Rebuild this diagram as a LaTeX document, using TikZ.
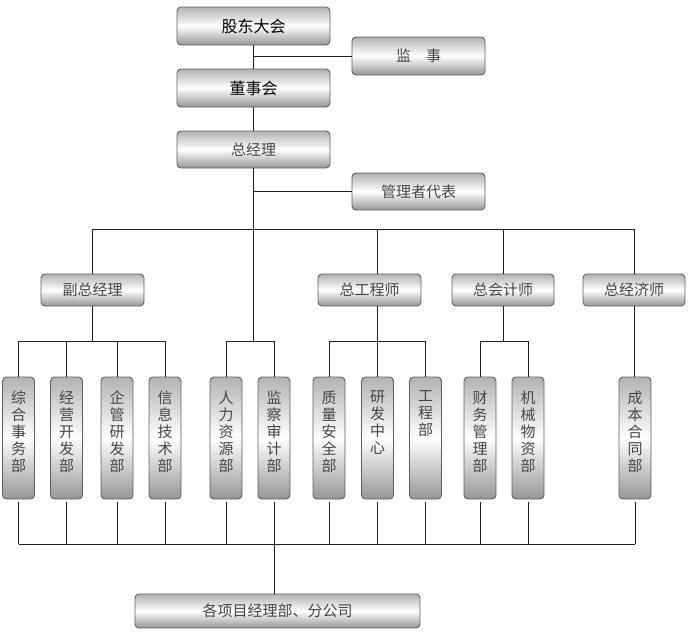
\documentclass[tikz,border=0pt]{standalone}
\usepackage{fontspec}
\newfontfamily\cjk{Noto Sans CJK SC}
\definecolor{boxtop}{RGB}{178,178,178}
\definecolor{boxbot}{RGB}{150,150,150}
\definecolor{boxline}{RGB}{95,95,95}
\definecolor{txtgray}{RGB}{70,70,70}
\definecolor{conncol}{RGB}{30,30,30}
\tikzset{
  basebox/.style={draw=boxline, line width=0.9pt, rounded corners=4pt,
    top color=boxtop, bottom color=boxbot, middle color=white,
    inner sep=0pt, text=txtgray},
  hbox/.style={basebox, minimum height=32pt, minimum width=103pt,
    font=\cjk\fontsize{15}{17}\selectfont},
  tallbox/.style={hbox, minimum height=38pt, minimum width=153pt},
  sidebox/.style={hbox, minimum height=38pt, minimum width=133pt},
  vbox/.style={basebox, minimum width=32pt, minimum height=122pt},
  vtxt/.style={inner sep=0pt, align=center, text=txtgray,
    font=\cjk\fontsize{15}{17}\selectfont},
  conn/.style={draw=conncol, line width=1pt}
}
\begin{document}
\begin{tikzpicture}[x=1pt,y=-1pt]
\useasboundingbox (0,0) rectangle (688,635);
% top chain
\node[tallbox, text=black, font=\cjk\fontsize{16}{18}\selectfont] (gd) at (253.5,26) {股东大会};
\node[sidebox] (js) at (418.5,56) {监\hspace{1em}事};
\node[tallbox, text=black, font=\cjk\fontsize{16}{18}\selectfont] (ds) at (253.5,88) {董事会};
\node[tallbox, minimum height=37pt] (zjl) at (253.5,149.5) {总经理};
\node[sidebox, minimum height=37pt] (gl) at (418.5,191.5) {管理者代表};
% second level
\node[hbox] (fz) at (92.5,290) {副总经理};
\node[hbox] (zg) at (369.5,290) {总工程师};
\node[hbox, minimum width=102pt] (zk) at (503,290) {总会计师};
\node[hbox, minimum width=102pt] (zj) at (634,290) {总经济师};
% departments
\foreach \n/\x in {1/18.5,2/66.5,3/117,4/165,5/226,6/274,7/329,8/377.5,9/425.5,10/480,11/528,12/635}{
  \node[vbox] (v\n) at (\x,438) {};
}
\node[vtxt, anchor=north] (t1) at ([yshift=-14pt]v1.north) {综\\合\\事\\务\\部};
\node[vtxt, anchor=north] (t2) at ([yshift=-14pt]v2.north) {经\\营\\开\\发\\部};
\node[vtxt, anchor=north] (t3) at ([yshift=-14pt]v3.north) {企\\管\\研\\发\\部};
\node[vtxt, anchor=north] (t4) at ([yshift=-14pt]v4.north) {信\\息\\技\\术\\部};
\node[vtxt, anchor=north] (t5) at ([yshift=-14pt]v5.north) {人\\力\\资\\源\\部};
\node[vtxt, anchor=north] (t6) at ([yshift=-14pt]v6.north) {监\\察\\审\\计\\部};
\node[vtxt, anchor=north] (t7) at ([yshift=-14pt]v7.north) {质\\量\\安\\全\\部};
\node[vtxt, anchor=north] (t8) at ([yshift=-14pt]v8.north) {研\\发\\中\\心};
\node[vtxt, anchor=north] (t9) at ([yshift=-14pt]v9.north) {工\\程\\部};
\node[vtxt, anchor=north] (t10) at ([yshift=-14pt]v10.north) {财\\务\\管\\理\\部};
\node[vtxt, anchor=north] (t11) at ([yshift=-14pt]v11.north) {机\\械\\物\\资\\部};
\node[vtxt, anchor=north] (t12) at ([yshift=-14pt]v12.north) {成\\本\\合\\同\\部};
% bottom
\node[hbox, minimum width=285pt, minimum height=34pt] (bb) at (277.5,611) {各项目经理部、分公司};
% helper coordinates
\coordinate (busY) at (0,229);
\coordinate (subY) at (0,341);
\coordinate (botY) at (0,544);
% connectors top
\draw[conn] (gd) -- (ds);
\draw[conn] (ds) -- (zjl);
\draw[conn] (js.west) -- (js.west -| gd.south);
\draw[conn] (gl.west) -- (gl.west -| zjl.south);
\draw[conn] (zjl.south) -- (zjl.south |- subY);
% main bus
\draw[conn] (fz.north |- busY) -- (zj.north |- busY);
\draw[conn] (fz.north |- busY) -- (fz.north);
\draw[conn] (v8.north |- busY) -- (v8.north |- zg.north);
\draw[conn] (zk.north |- busY) -- (zk.north);
\draw[conn] (zj.north |- busY) -- (zj.north);
% sub branches
\draw[conn] (fz.south) -- (fz.south |- subY);
\draw[conn] (v1.north |- subY) -- (v4.north |- subY);
\draw[conn] (v5.north |- subY) -- (v6.north |- subY);
\draw[conn] (v8.north |- zg.south) -- (v8.north |- subY);
\draw[conn] (v7.north |- subY) -- (v9.north |- subY);
\draw[conn] (zk.south) -- (zk.south |- subY);
\draw[conn] (v10.north |- subY) -- (v11.north |- subY);
\draw[conn] (v12.north -| zj.south) -- (zj.south);
\foreach \n in {1,...,11}{
  \draw[conn] (v\n.north |- subY) -- (v\n.north);
}
% bottom bus
\foreach \n in {1,...,12}{
  \draw[conn] ([yshift=-3pt]v\n.south) -- (v\n.south |- botY);
}
\draw[conn] (v1.south |- botY) -- (v12.south |- botY);
\draw[conn] (v6.south |- botY) -- (v6.south |- bb.north);
\end{tikzpicture}
\end{document}
